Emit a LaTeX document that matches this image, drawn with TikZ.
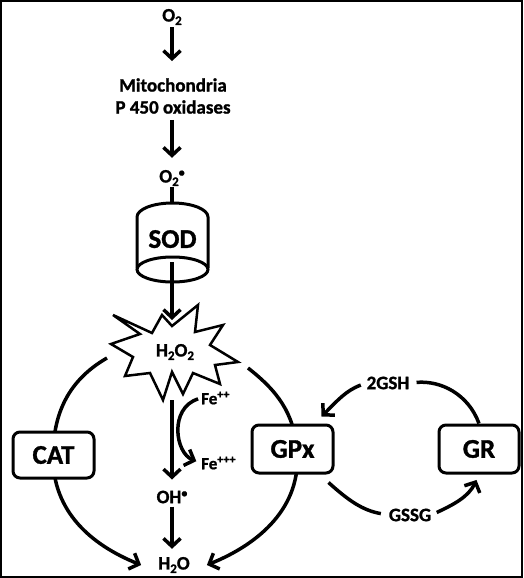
\documentclass[tikz,border=0pt]{standalone}
\usepackage{fontspec}
\setmainfont{Carlito}[BoldFeatures={FakeBold=1.2}]
\usetikzlibrary{arrows.meta}
\newcommand{\sbt}[1]{\raisebox{-3.5pt}{\fontsize{13}{13}\selectfont #1}}
\newcommand{\spt}[1]{\raisebox{6pt}{\fontsize{12}{12}\selectfont #1}}
\begin{document}
\begin{tikzpicture}[x=1pt,y=-1pt,
  lbl/.style={font=\bfseries\fontsize{19}{22}\selectfont, inner sep=0pt, align=center},
  felbl/.style={font=\bfseries\fontsize{17}{20}\selectfont, inner sep=0pt},
  enz/.style={draw, line width=3pt, rounded corners=7pt, fill=white, inner sep=0pt,
              font=\bfseries\fontsize{27}{30}\selectfont},
  arr/.style={line width=3.5pt, -{Straight Barb[length=8pt,width=17pt]}},
  ln/.style={line width=3.5pt},
  shp/.style={line width=3pt},
]
\useasboundingbox (0,0) rectangle (523,578);
\draw[line width=2pt] (1,1) rectangle (522,577);

% text nodes
\node[lbl] (O2) at (172,17) {O\sbt{2}};
\node[lbl] (mito) at (173,96) {Mitochondria\\P 450 oxidases};
\node[lbl] (O2r) at (172,178) {O\sbt{2}\spt{\textbullet}};

% SOD cylinder
\node[inner sep=0pt, minimum width=71pt, minimum height=79pt,
      font=\bfseries\fontsize{27}{30}\selectfont] (SOD) at (172.5,242.5) {\raisebox{7pt}{SOD}};
\draw[shp] (137,268) -- (137,217) arc[start angle=180,end angle=360,x radius=35.5,y radius=14] -- (208,268);
\draw[shp] (172.5,269.5) ellipse[x radius=35.5, y radius=12.5];

% connectors top
\draw[arr, shorten <=2pt, shorten >=17pt] (O2) -- (O2 |- mito.north);
\draw[arr, shorten <=6pt, shorten >=12pt] (O2 |- mito.south) -- (O2r);
\draw[ln, shorten <=1pt] (O2r) -- (O2r |- SOD.north);
\coordinate (sodin) at (172,262);
\coordinate (startop) at (172,320);
\draw[arr] (sodin) -- (startop);

% big arcs (behind boxes)
\coordinate (catstart) at (107,358);
\coordinate (gpxstart) at (248,368);
\node[lbl, inner xsep=17pt, inner ysep=8pt] (H2O) at (174,565) {H\sbt{2}O};
\draw[arr] (catstart) to[out=210,in=90] (53,457) to[out=-90,in=158] (H2O.west);
\draw[arr] (gpxstart) to[out=-38,in=95] (297,450) to[out=-85,in=22] (H2O.east);

% star
\draw[line width=2.5pt, fill=white, line join=miter]
  (113,315) -- (152,333) -- (162,315) -- (172,326) -- (198,305) -- (195,332)
  -- (223,325) -- (210,345) -- (238,362) -- (215,365) -- (220,384) -- (193,373)
  -- (183,394) -- (172,372) -- (163,400) -- (150,373) -- (125,376) -- (133,357)
  -- (111,344) -- (140,334) -- cycle;
\node[lbl] (H2O2) at (175,352) {H\sbt{2}O\sbt{2}};
\coordinate (starbot) at (172,400);

% Fenton
\node[felbl, anchor=west] (Fe2) at (201,398) {Fe\spt{++}};
\node[felbl, anchor=west] (Fe3) at (201,463) {Fe\spt{+++}};
\draw[arr, shorten <=3pt, shorten >=5pt] (Fe2.west) .. controls +(-32,10) and +(-26,-10) .. (Fe3.west);
\node[lbl] (OH) at (172,497) {OH\spt{\textbullet}};
\draw[arr, shorten >=11pt] (starbot) -- (starbot |- OH.north);
\draw[arr, shorten <=3pt, shorten >=0pt] (starbot |- OH.south) -- (starbot |- H2O.north);

% enzyme boxes
\node[enz, minimum width=81pt, minimum height=46pt] (CAT) at (53.5,455) {CAT};
\node[enz, minimum width=81pt, minimum height=48pt] (GPx) at (292.5,449) {GPx};
\node[enz, minimum width=80pt, minimum height=48pt] (GR) at (479,449) {GR};

% glutathione cycle
\node[lbl] (GSH) at (388,383) {2GSH};
\node[lbl] (GSSG) at (410,515) {GSSG};
\draw[arr, shorten <=6pt] (GSH.west) to[out=200,in=45] ([shift={(-13,-7)}]GPx.north east);
\draw[ln, shorten <=7pt] (GSH.east) to[out=5,in=110] (GR.north);
\draw[ln, shorten >=8pt] ([shift={(-6,8)}]GPx.south east) to[out=-42,in=170] (GSSG.west);
\draw[arr, shorten <=6pt, shorten >=6pt] (GSSG.east) to[out=25,in=245] (GR.south);
\end{tikzpicture}
\end{document}
